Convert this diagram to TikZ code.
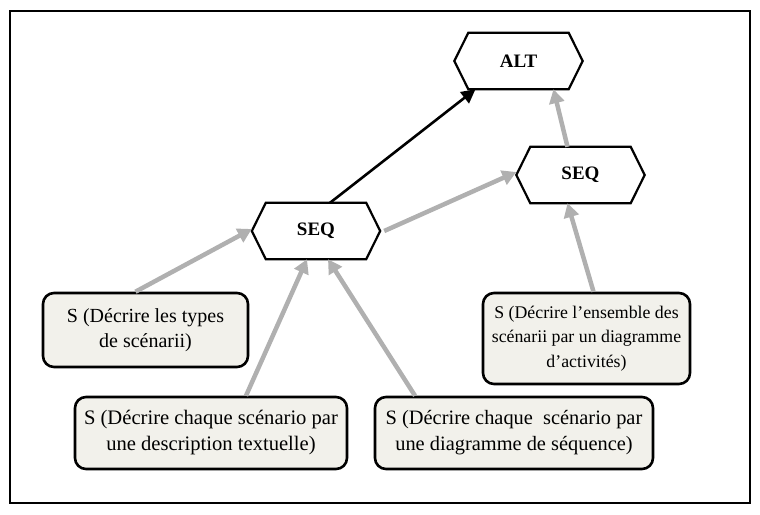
\documentclass[tikz,border=0pt]{standalone}
\usepackage{fontspec}
\setmainfont{Liberation Serif}
\usetikzlibrary{arrows.meta}
\definecolor{boxfill}{HTML}{F2F1EB}
\definecolor{arrgray}{HTML}{B0B0B0}
\tikzset{
  hexnode/.style={minimum width=100pt, minimum height=56pt, inner sep=0pt, font=\fontsize{19}{22}\selectfont\bfseries},
  hexline/.style={draw=black, line width=2.2pt, line join=miter},
  sbox/.style={draw=black, line width=2.6pt, rounded corners=11pt, fill=boxfill, align=center, inner sep=0pt},
  grayarr/.style={draw=arrgray, line width=4.5pt, -{Triangle[length=14pt,width=15pt]}, shorten >=0pt},
  blackarr/.style={draw=black, line width=2.6pt, -{Triangle[length=14pt,width=14pt]}},
}
\newcommand{\hexdraw}[1]{%
  \draw[hexline] (#1.north west) -- (#1.north east) -- ([xshift=14pt]#1.east) -- (#1.south east) -- (#1.south west) -- ([xshift=-14pt]#1.west) -- cycle;}
\begin{document}
\begin{tikzpicture}[x=1pt,y=-1pt]
\useasboundingbox (0,0) rectangle (760,514);
\draw[line width=2.4pt] (10,11) rectangle (750,503);
% hexagons
\node[hexnode] (alt) at (518.5,61) {ALT};
\node[hexnode] (seqa) at (316,231) {SEQ};
\node[hexnode] (seqb) at (580.5,175) {SEQ};
\hexdraw{alt}
\hexdraw{seqa}
\hexdraw{seqb}
\coordinate (seqaL) at ([xshift=-14pt]seqa.west);
\coordinate (seqaR) at ([xshift=14pt]seqa.east);
\coordinate (seqbL) at ([xshift=-14pt]seqb.west);
% boxes
\node[sbox, minimum width=205pt, minimum height=74pt, font=\fontsize{20}{25}\selectfont] (b1) at (145.5,330) {S (Décrire les types\\de scénarii)};
\node[sbox, minimum width=272pt, minimum height=72pt, font=\fontsize{20.6}{26}\selectfont] (b2) at (211,433) {S (Décrire chaque scénario par\\une description textuelle)};
\node[sbox, minimum width=278pt, minimum height=72pt, font=\fontsize{20.4}{26}\selectfont] (b3) at (514,433) {S (Décrire chaque\ \ scénario par\\une diagramme de séquence)};
\node[sbox, minimum width=207pt, minimum height=91pt, font=\fontsize{17.8}{24.5}\selectfont] (b4) at (586.5,338.5) {S (Décrire l’ensemble des\\scénarii par un diagramme\\d’activités)};
% connectors
\draw[blackarr] ([xshift=14pt]seqa.north) -- ([xshift=-43pt]alt.south);
\draw[grayarr] ([xshift=4pt]seqaR) -- ([yshift=3pt]seqbL);
\draw[grayarr] ([xshift=-13pt]seqb.north) -- ([xshift=35pt]alt.south);
\draw[grayarr] ([xshift=-10pt]b1.north) -- ([yshift=2pt]seqaL);
\draw[grayarr] ([xshift=35pt]b2.north) -- ([xshift=-9pt]seqa.south);
\draw[grayarr] ([xshift=-99pt]b3.north) -- ([xshift=12pt]seqa.south);
\draw[grayarr] ([xshift=7pt]b4.north) -- ([xshift=-13pt]seqb.south);
\end{tikzpicture}
\end{document}
